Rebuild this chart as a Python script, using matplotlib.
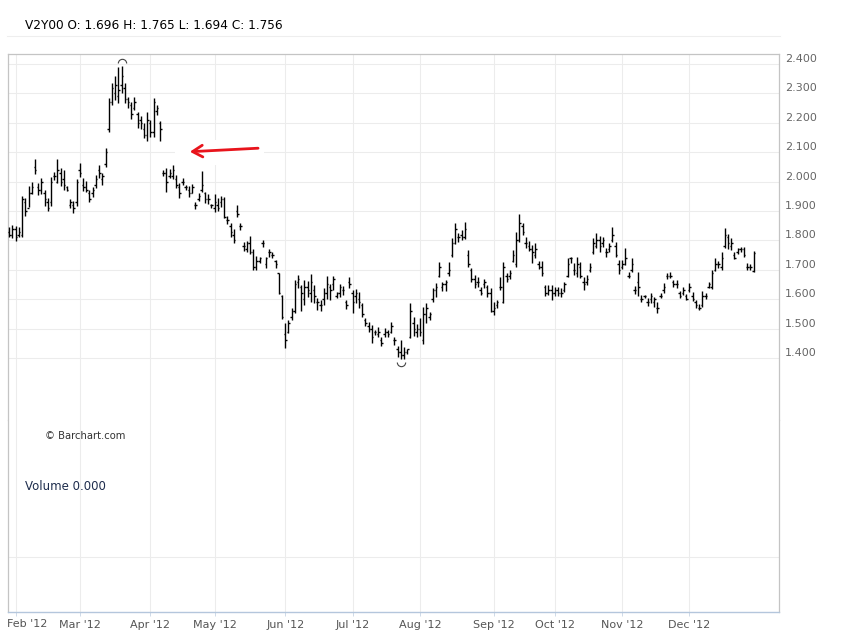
import numpy as np
import matplotlib.pyplot as plt
from matplotlib.lines import Line2D
from matplotlib.patches import Rectangle
from matplotlib.path import Path
from matplotlib.transforms import offset_copy

# daily OHLC bars, Jan 30 2012 .. end of Dec 2012
symbol = 'V2Y00'
highs = [1.846, 1.853, 1.849, 1.846, 1.951, 1.944, 1.985, 1.999, 2.077, 1.995,
         2.012, 1.972, 1.944, 2.016, 2.033, 2.077, 2.046, 2.040, 1.985, 1.941,
         1.934, 2.009, 2.063, 2.012, 2.002, 1.972, 1.982, 2.023, 2.057, 2.029,
         2.114, 2.284, 2.335, 2.359, 2.390, 2.393, 2.335, 2.288, 2.271, 2.288,
         2.237, 2.223, 2.199, 2.237, 2.210, 2.284, 2.261, 2.206,
         2.040, 2.046, 2.043, 2.057, 2.023, 1.995, 2.012, 1.989, 1.985, 1.992,
         1.931, 1.961, 2.036, 1.965, 1.958, 1.924, 1.958, 1.944, 1.951, 1.948,
         1.883, 1.859, 1.839, 1.921, 1.859, 1.795, 1.798, 1.815, 1.771, 1.747,
         1.744, 1.802, 1.744, 1.771, 1.761, 1.734, 1.689, 1.615, 1.519, 1.530,
         1.570,
         1.666, 1.683, 1.649, 1.666, 1.662, 1.686, 1.649, 1.604, 1.598, 1.638,
         1.679, 1.652, 1.679, 1.625, 1.652, 1.645, 1.598, 1.676, 1.632, 1.635,
         1.625, 1.587, 1.536, 1.523, 1.513, 1.496, 1.506, 1.472, 1.502, 1.496,
         1.523, 1.472, 1.441, 1.462, 1.438, 1.431, 1.587, 1.540, 1.516, 1.536,
         1.574, 1.587, 1.557, 1.638, 1.655,
         1.727, 1.659, 1.666, 1.727, 1.808, 1.859, 1.825, 1.836, 1.863, 1.768,
         1.706, 1.683, 1.676, 1.642, 1.669, 1.649, 1.638, 1.591, 1.598, 1.676,
         1.727, 1.689, 1.700, 1.768, 1.829, 1.890, 1.859, 1.812, 1.798, 1.785,
         1.791, 1.730, 1.730, 1.649, 1.649, 1.649, 1.642, 1.642, 1.638, 1.659,
         1.740, 1.744, 1.723, 1.744, 1.727, 1.676, 1.683,
         1.723, 1.808, 1.825, 1.815, 1.812, 1.774, 1.791, 1.846, 1.795, 1.734,
         1.734, 1.774, 1.693, 1.740, 1.645, 1.693, 1.615, 1.615, 1.604, 1.621,
         1.608, 1.591, 1.621, 1.655, 1.689, 1.693, 1.666, 1.666, 1.628, 1.642,
         1.618, 1.655, 1.625, 1.598, 1.584, 1.628, 1.621, 1.659, 1.700, 1.740,
         1.730, 1.761, 1.842, 1.822, 1.808, 1.761, 1.774, 1.778, 1.778, 1.723,
         1.720, 1.765]
lows = [1.812, 1.808, 1.798, 1.812, 1.812, 1.883, 1.914, 1.958, 2.026, 1.955,
        1.958, 1.917, 1.900, 1.917, 2.006, 1.995, 1.985, 1.972, 1.968, 1.910,
        1.893, 1.917, 2.016, 1.968, 1.965, 1.931, 1.948, 1.978, 2.012, 1.989,
        2.050, 2.169, 2.261, 2.278, 2.267, 2.301, 2.267, 2.250, 2.213, 2.244,
        2.182, 2.179, 2.148, 2.138, 2.152, 2.152, 2.227, 2.138,
        2.019, 1.965, 2.012, 2.009, 1.978, 1.944, 1.989, 1.972, 1.948, 1.961,
        1.907, 1.934, 1.965, 1.927, 1.924, 1.910, 1.897, 1.900, 1.914, 1.876,
        1.856, 1.812, 1.791, 1.880, 1.836, 1.764, 1.761, 1.754, 1.700, 1.700,
        1.723, 1.778, 1.706, 1.744, 1.740, 1.706, 1.618, 1.533, 1.434, 1.485,
        1.530,
        1.553, 1.638, 1.560, 1.581, 1.608, 1.591, 1.587, 1.564, 1.560, 1.581,
        1.601, 1.598, 1.632, 1.604, 1.608, 1.615, 1.567, 1.638, 1.553, 1.587,
        1.570, 1.540, 1.509, 1.489, 1.451, 1.479, 1.472, 1.441, 1.472, 1.472,
        1.485, 1.445, 1.404, 1.397, 1.397, 1.414, 1.468, 1.475, 1.472, 1.475,
        1.448, 1.519, 1.530, 1.591, 1.608,
        1.676, 1.628, 1.628, 1.679, 1.744, 1.788, 1.795, 1.802, 1.805, 1.710,
        1.659, 1.638, 1.642, 1.615, 1.638, 1.608, 1.557, 1.547, 1.570, 1.632,
        1.587, 1.659, 1.669, 1.727, 1.710, 1.795, 1.819, 1.774, 1.764, 1.723,
        1.740, 1.703, 1.679, 1.611, 1.615, 1.598, 1.611, 1.611, 1.608, 1.625,
        1.676, 1.723, 1.683, 1.676, 1.672, 1.632, 1.649,
        1.693, 1.754, 1.774, 1.761, 1.778, 1.744, 1.761, 1.795, 1.744, 1.686,
        1.703, 1.717, 1.672, 1.693, 1.618, 1.611, 1.591, 1.604, 1.577, 1.587,
        1.574, 1.553, 1.604, 1.621, 1.669, 1.672, 1.642, 1.638, 1.604, 1.615,
        1.598, 1.625, 1.594, 1.570, 1.564, 1.574, 1.601, 1.638, 1.635, 1.696,
        1.706, 1.700, 1.774, 1.771, 1.768, 1.737, 1.754, 1.761, 1.744, 1.700,
        1.700, 1.694]
opens = [1.83, 1.82, 1.84, 1.82, 1.82, 1.93, 1.91, 1.96, 2.05, 1.98,
         1.97, 1.96, 1.93, 1.93, 2.02, 2.00, 2.03, 2.01, 1.98, 1.92,
         1.92, 1.93, 2.04, 1.99, 1.98, 1.96, 1.96, 1.99, 2.04, 2.01,
         2.06, 2.18, 2.27, 2.30, 2.29, 2.33, 2.32, 2.28, 2.26, 2.25,
         2.23, 2.21, 2.18, 2.16, 2.20, 2.17, 2.24, 2.20,
         2.03, 2.03, 2.02, 2.02, 2.01, 1.98, 2.00, 1.98, 1.97, 1.96,
         1.92, 1.94, 1.97, 1.96, 1.94, 1.92, 1.91, 1.92, 1.93, 1.94,
         1.87, 1.85, 1.82, 1.90, 1.85, 1.78, 1.77, 1.79, 1.76, 1.71,
         1.73, 1.79, 1.72, 1.76, 1.75, 1.73, 1.69, 1.61, 1.48, 1.49,
         1.54,
         1.56, 1.66, 1.64, 1.60, 1.64, 1.62, 1.63, 1.59, 1.58, 1.60,
         1.62, 1.64, 1.65, 1.61, 1.62, 1.63, 1.59, 1.66, 1.62, 1.61,
         1.60, 1.58, 1.53, 1.51, 1.50, 1.49, 1.48, 1.46, 1.48, 1.49,
         1.49, 1.46, 1.43, 1.42, 1.41, 1.42, 1.47, 1.52, 1.49, 1.50,
         1.46, 1.55, 1.54, 1.60, 1.63,
         1.68, 1.64, 1.65, 1.69, 1.75, 1.79, 1.81, 1.82, 1.81, 1.75,
         1.70, 1.67, 1.66, 1.63, 1.65, 1.64, 1.62, 1.56, 1.58, 1.64,
         1.59, 1.68, 1.68, 1.73, 1.72, 1.80, 1.85, 1.79, 1.78, 1.77,
         1.75, 1.72, 1.71, 1.64, 1.62, 1.63, 1.62, 1.63, 1.62, 1.63,
         1.68, 1.74, 1.70, 1.69, 1.71, 1.66, 1.66,
         1.70, 1.76, 1.78, 1.80, 1.79, 1.76, 1.77, 1.80, 1.78, 1.72,
         1.71, 1.72, 1.68, 1.70, 1.63, 1.66, 1.60, 1.61, 1.59, 1.60,
         1.59, 1.57, 1.61, 1.63, 1.68, 1.68, 1.66, 1.65, 1.62, 1.62,
         1.61, 1.63, 1.61, 1.59, 1.57, 1.58, 1.61, 1.64, 1.64, 1.70,
         1.72, 1.71, 1.78, 1.81, 1.78, 1.75, 1.76, 1.77, 1.77, 1.71,
         1.71, 1.696]
closes = [1.82, 1.84, 1.81, 1.83, 1.94, 1.90, 1.96, 1.98, 2.04, 1.97,
          2.00, 1.94, 1.91, 2.00, 2.02, 2.04, 2.00, 1.99, 1.97, 1.93,
          1.91, 2.00, 2.03, 1.98, 1.97, 1.94, 1.97, 2.01, 2.03, 2.02,
          2.10, 2.27, 2.32, 2.33, 2.31, 2.36, 2.28, 2.27, 2.23, 2.27,
          2.20, 2.20, 2.16, 2.21, 2.17, 2.27, 2.25, 2.18,
          2.03, 2.00, 2.03, 2.04, 1.99, 1.96, 2.00, 1.98, 1.96, 1.98,
          1.92, 1.95, 1.99, 1.94, 1.94, 1.92, 1.93, 1.91, 1.94, 1.88,
          1.87, 1.83, 1.80, 1.89, 1.85, 1.78, 1.79, 1.76, 1.71, 1.73,
          1.74, 1.79, 1.74, 1.76, 1.75, 1.72, 1.62, 1.54, 1.46, 1.52,
          1.56,
          1.65, 1.67, 1.62, 1.64, 1.63, 1.66, 1.61, 1.59, 1.58, 1.62,
          1.65, 1.63, 1.67, 1.62, 1.64, 1.63, 1.58, 1.65, 1.59, 1.62,
          1.59, 1.55, 1.52, 1.50, 1.47, 1.49, 1.49, 1.45, 1.49, 1.48,
          1.51, 1.46, 1.42, 1.41, 1.42, 1.43, 1.56, 1.50, 1.50, 1.49,
          1.55, 1.57, 1.55, 1.63, 1.64,
          1.71, 1.65, 1.66, 1.70, 1.79, 1.84, 1.81, 1.81, 1.84, 1.72,
          1.67, 1.65, 1.66, 1.62, 1.66, 1.62, 1.56, 1.57, 1.59, 1.64,
          1.71, 1.67, 1.69, 1.75, 1.80, 1.86, 1.83, 1.79, 1.77, 1.76,
          1.77, 1.71, 1.69, 1.62, 1.63, 1.62, 1.63, 1.62, 1.62, 1.65,
          1.72, 1.74, 1.70, 1.72, 1.68, 1.65, 1.67,
          1.71, 1.79, 1.80, 1.78, 1.80, 1.76, 1.78, 1.82, 1.75, 1.70,
          1.72, 1.74, 1.68, 1.72, 1.63, 1.64, 1.60, 1.61, 1.59, 1.61,
          1.60, 1.57, 1.61, 1.64, 1.68, 1.68, 1.65, 1.65, 1.61, 1.63,
          1.60, 1.64, 1.60, 1.58, 1.57, 1.61, 1.61, 1.65, 1.69, 1.72,
          1.72, 1.74, 1.82, 1.79, 1.79, 1.74, 1.77, 1.77, 1.75, 1.71,
          1.71, 1.756]

month_labels = ["Feb '12", "Mar '12", "Apr '12", "May '12", "Jun '12", "Jul '12",
                "Aug '12", "Sep '12", "Oct '12", "Nov '12", "Dec '12"]
month_start = [2, 22, 44, 64, 86, 107, 128, 151, 170, 191, 212]  # bar index of 1st session
price_ticks = [1.4, 1.5, 1.6, 1.7, 1.8, 1.9, 2.0, 2.1, 2.2, 2.3, 2.4]
volume = 0.0

W, H = 845, 638
fig = plt.figure(figsize=(W / 100, H / 100), dpi=100)


def box(l, t, r, b):
    return [l / W, 1 - b / H, (r - l) / W, (b - t) / H]


ax = fig.add_axes(box(8, 54, 779, 420))
axv = fig.add_axes(box(8, 420, 779, 612), sharex=ax)

grid_c = '#ececec'
frame_c = '#c4c4c4'

# price bars
x = np.arange(len(highs))
ax.vlines(x, lows, highs, color='black', lw=1.0, zorder=3)
ax.hlines(opens, x - 0.45, x, color='black', lw=1.0, zorder=3)
ax.hlines(closes, x, x + 0.45, color='black', lw=1.0, zorder=3)

# high / low markers
ih, il = int(np.argmax(highs)), int(np.argmin(lows))
up_arc = Path.arc(0, 180)
down_arc = Path.arc(180, 360)
ax.plot(ih, highs[ih], marker=up_arc, ms=6, mfc='none', mec='#444444', mew=0.8,
        transform=offset_copy(ax.transData, fig, y=3, units='dots'), zorder=4)
ax.plot(il, lows[il], marker=down_arc, ms=6, mfc='none', mec='#444444', mew=0.8,
        transform=offset_copy(ax.transData, fig, y=-3, units='dots'), zorder=4)

ax.set_xlim(-0.4, 239.9)
ax.set_ylim(1.189, 2.434)
ax.set_yticks(price_ticks, [f'{v:.3f}' for v in price_ticks])
ax.yaxis.tick_right()
ax.tick_params(axis='y', length=0, pad=4.5, labelsize=8, labelcolor='#666666')
for t in ax.get_yticklabels():
    t.set_verticalalignment('bottom')
ax.tick_params(axis='x', length=0, labelbottom=False)
ax.set_xticks(month_start)
ax.grid(True, color=grid_c, lw=0.75)
ax.set_axisbelow(True)
for s in ['top', 'left', 'right']:
    ax.spines[s].set_color(frame_c)
    ax.spines[s].set_linewidth(0.9)
ax.spines['bottom'].set_visible(False)

# annotation arrow with white backing
ax.add_patch(Rectangle((51.8, 2.057), 27.5, 0.085, facecolor='white', edgecolor='none', zorder=2))
ax.annotate('', xy=(55.4, 2.101), xytext=(78.4, 2.114),
            arrowprops=dict(arrowstyle='->,head_length=0.6,head_width=0.35',
                            color='#e8141c', lw=2, mutation_scale=12), zorder=5)

# volume pane
axv.set_ylim(0, 1)
axv.set_yticks([0.286], [''])
axv.tick_params(axis='y', length=0)
axv.set_xticks(month_start, [''] + month_labels[1:])
axv.tick_params(axis='x', length=3, width=0.6, color='#c8d4e4', pad=3,
                labelsize=8, labelcolor='#555555')
# first label is pushed right so it stays inside the frame
axv.annotate(month_labels[0], xy=(month_start[0], 0), xycoords=('data', 'axes fraction'),
             xytext=(-6, -5.3), textcoords='offset points', ha='left', va='top',
             fontsize=8, color='#555555', annotation_clip=False)
axv.grid(True, color=grid_c, lw=0.75)
axv.set_axisbelow(True)
for s in ['left', 'right']:
    axv.spines[s].set_color(frame_c)
    axv.spines[s].set_linewidth(0.9)
axv.spines['top'].set_visible(False)
axv.spines['bottom'].set_color('#b4c6dc')
axv.spines['bottom'].set_linewidth(1.0)

# header and texts
fig.text(25 / W, 1 - 25.5 / H,
         f'{symbol} O: {opens[-1]:.3f} H: {highs[-1]:.3f} L: {lows[-1]:.3f} C: {closes[-1]:.3f}',
         fontsize=8.7, va='center', ha='left', color='black')
fig.add_artist(Line2D([7 / W, 780 / W], [1 - 35.5 / H] * 2, color='#eeeeee', lw=0.8))
fig.text(45 / W, 1 - 436 / H, '\u00a9 Barchart.com', fontsize=7.2, va='center', color='#333333')
fig.text(25 / W, 1 - 486 / H, f'Volume {volume:.3f}', fontsize=8.5, va='center', color='#1e2d4d')

fig.savefig('out.png', dpi=100)
